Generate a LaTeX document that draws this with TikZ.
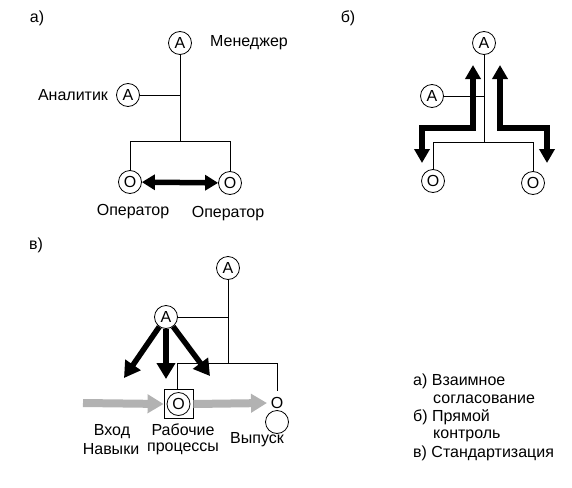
\documentclass[tikz,border=0pt]{standalone}
\usepackage{fontspec}
\setmainfont{Liberation Sans}
\usetikzlibrary{arrows.meta}
\begin{document}
\begin{tikzpicture}[x=1pt,y=-1pt,
  every node/.style={font=\fontsize{16}{18}\selectfont},
  circ/.style={circle,draw,line width=0.8pt,minimum size=23pt,inner sep=0pt},
  thin/.style={line width=0.8pt},
  blk/.style={line width=5.5pt,line join=miter},
  gry/.style={line width=8pt,color=black!30,-{Triangle[length=16pt,width=18pt]}},
  lbl/.style={inner sep=0pt}
]
\useasboundingbox (0,0) rectangle (572,487);
% ---------- panel a
\node[lbl] (la) at (37,18) {а)};
\node[circ] (aM) at (180,43) {A};
\node[lbl] (aMt) at (249,43) {Менеджер};
\node[circ] (aA) at (128,95) {A};
\node[lbl] (aAt) at (73,95) {Аналитик};
\node[circ] (aO1) at (130,182) {O};
\node[circ] (aO2) at (230,183) {O};
\node[lbl] (aO1t) at (133,212) {Оператор};
\node[lbl] (aO2t) at (228,214) {Оператор};
\coordinate (aJ1) at (180,95);
\coordinate (aJ2) at (180,141);
\coordinate (aL) at (130,141);
\coordinate (aR) at (230,141);
\draw[thin] (aM) -- (aJ2);
\draw[thin] (aA) -- (aJ1);
\draw[thin] (aL) -- (aR);
\draw[thin] (aL) -- (aO1);
\draw[thin] (aR) -- (aO2);
\draw[blk,{Triangle[length=13pt,width=15pt]}-{Triangle[length=13pt,width=15pt]}] (aO1) -- (aO2);
% ---------- panel b
\node[lbl] (lb) at (348,18) {б)};
\node[circ] (bA) at (484,43) {A};
\node[circ] (bA2) at (432,96) {A};
\node[circ] (bO1) at (433,181) {O};
\node[circ] (bO2) at (533,183) {O};
\coordinate (bJ1) at (484,96);
\coordinate (bJ2) at (484,142);
\coordinate (bL) at (433,142);
\coordinate (bR) at (533,142);
\draw[thin] (bA) -- (bJ2);
\draw[thin] (bA2) -- (bJ1);
\draw[thin] (bL) -- (bR);
\draw[thin] (bL) -- (bO1);
\draw[thin] (bR) -- (bO2);
\coordinate (bp1) at (473,65);
\coordinate (bp2) at (473,128);
\coordinate (bp3) at (422,128);
\coordinate (bp4) at (422,163);
\coordinate (bq1) at (500,65);
\coordinate (bq2) at (500,128);
\coordinate (bq3) at (547,128);
\coordinate (bq4) at (547,163);
\draw[blk,{Triangle[length=14pt,width=15pt]}-{Triangle[length=14pt,width=15pt]}] (bp1) -- (bp2) -- (bp3) -- (bp4);
\draw[blk,{Triangle[length=14pt,width=15pt]}-{Triangle[length=14pt,width=15pt]}] (bq1) -- (bq2) -- (bq3) -- (bq4);
% ---------- panel c
\node[lbl] (lc) at (36,245) {в)};
\node[circ] (cA) at (228,268) {A};
\node[circ] (cA2) at (166,317) {A};
\node[draw,line width=0.8pt,minimum size=29pt,inner sep=0pt] (cP) at (178.5,404) {};
\node[circ] (cO) at (cP.center) {O};
\node[lbl] (cOt) at (277,403) {O};
\node[circle,draw,line width=0.8pt,minimum size=23pt,inner sep=0pt] (cC) at (277,422) {};
\coordinate (cJ1) at (228,317);
\coordinate (cJ2) at (228,363);
\coordinate (cL) at (177,363);
\coordinate (cR) at (277,363);
\coordinate (cRb) at (277,391);
\draw[thin] (cA) -- (cJ2);
\draw[thin] (cA2) -- (cJ1);
\draw[thin] (cL) -- (cR);
\draw[thin] (cL) -- (cL |- cP.north);
\draw[thin] (cR) -- (cRb);
\coordinate (ct1) at (124,378);
\coordinate (ct2) at (166,379);
\coordinate (ct3) at (210,376);
\draw[blk,-{Triangle[length=16pt,width=18pt]}] (cA2) -- (ct1);
\draw[blk,-{Triangle[length=16pt,width=18pt]}] (cA2) -- (ct2);
\draw[blk,-{Triangle[length=16pt,width=18pt]}] (cA2) -- (ct3);
\coordinate (cin) at (83,403);
\coordinate (cout) at (267,403);
\draw[gry] (cin) -- (cP.west);
\draw[gry] (cP.east) -- (cout);
\node[lbl] (c1) at (112,432) {Вход};
\node[lbl] (c2) at (111,449) {Навыки};
\node[lbl] (c3) at (183,430) {Рабочие};
\node[lbl] (c4) at (183,449) {процессы};
\node[lbl] (c5) at (257,440) {Выпуск};
% ---------- legend
\node[lbl,anchor=west] (g1) at (413,381) {а) Взаимное};
\node[lbl,anchor=west] (g2) at (433,399) {согласование};
\node[lbl,anchor=west] (g3) at (413,417) {б) Прямой};
\node[lbl,anchor=west] (g4) at (433,436) {контроль};
\node[lbl,anchor=west] (g5) at (413,453) {в) Стандартизация};
\end{tikzpicture}
\end{document}
